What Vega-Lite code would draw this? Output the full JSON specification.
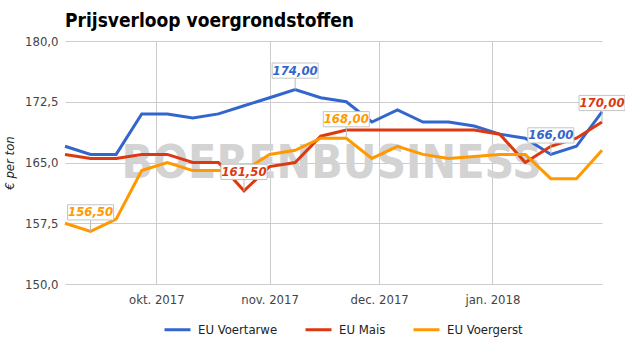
{
  "$schema": "https://vega.github.io/schema/vega-lite/v6.json",
  "width": 537,
  "height": 243,
  "autosize": {"type": "none"},
  "padding": {"left": 65, "top": 41, "right": 23, "bottom": 71},
  "background": "white",
  "title": {"text": "Prijsverloop voergrondstoffen", "anchor": "start", "frame": "group", "fontSize": 19, "fontWeight": "bold", "font": "DejaVu Sans Condensed, DejaVu Sans", "color": "#000", "offset": 4},
  "config": {
    "view": {"stroke": null},
    "font": "DejaVu Sans Condensed, DejaVu Sans",
    "locale": {"number": {"decimal": ",", "thousands": ".", "grouping": [3], "currency": ["€", ""]}}
  },
  "datasets": {
    "main": [
      {"date": "2017/09/06", "series": "EU Voertarwe", "value": 167},
      {"date": "2017/09/13", "series": "EU Voertarwe", "value": 166},
      {"date": "2017/09/20", "series": "EU Voertarwe", "value": 166},
      {"date": "2017/09/27", "series": "EU Voertarwe", "value": 171},
      {"date": "2017/10/04", "series": "EU Voertarwe", "value": 171},
      {"date": "2017/10/11", "series": "EU Voertarwe", "value": 170.5},
      {"date": "2017/10/18", "series": "EU Voertarwe", "value": 171},
      {"date": "2017/10/25", "series": "EU Voertarwe", "value": 172},
      {"date": "2017/11/01", "series": "EU Voertarwe", "value": 173},
      {"date": "2017/11/08", "series": "EU Voertarwe", "value": 174},
      {"date": "2017/11/15", "series": "EU Voertarwe", "value": 173},
      {"date": "2017/11/22", "series": "EU Voertarwe", "value": 172.5},
      {"date": "2017/11/29", "series": "EU Voertarwe", "value": 170},
      {"date": "2017/12/06", "series": "EU Voertarwe", "value": 171.5},
      {"date": "2017/12/13", "series": "EU Voertarwe", "value": 170},
      {"date": "2017/12/20", "series": "EU Voertarwe", "value": 170},
      {"date": "2017/12/27", "series": "EU Voertarwe", "value": 169.5},
      {"date": "2018/01/03", "series": "EU Voertarwe", "value": 168.5},
      {"date": "2018/01/10", "series": "EU Voertarwe", "value": 168},
      {"date": "2018/01/17", "series": "EU Voertarwe", "value": 166},
      {"date": "2018/01/24", "series": "EU Voertarwe", "value": 167},
      {"date": "2018/01/31", "series": "EU Voertarwe", "value": 171.25},
      {"date": "2017/09/06", "series": "EU Mais", "value": 166},
      {"date": "2017/09/13", "series": "EU Mais", "value": 165.5},
      {"date": "2017/09/20", "series": "EU Mais", "value": 165.5},
      {"date": "2017/09/27", "series": "EU Mais", "value": 166},
      {"date": "2017/10/04", "series": "EU Mais", "value": 166},
      {"date": "2017/10/11", "series": "EU Mais", "value": 165},
      {"date": "2017/10/18", "series": "EU Mais", "value": 165},
      {"date": "2017/10/25", "series": "EU Mais", "value": 161.5},
      {"date": "2017/11/01", "series": "EU Mais", "value": 164.5},
      {"date": "2017/11/08", "series": "EU Mais", "value": 165},
      {"date": "2017/11/15", "series": "EU Mais", "value": 168.25},
      {"date": "2017/11/22", "series": "EU Mais", "value": 169},
      {"date": "2017/11/29", "series": "EU Mais", "value": 169},
      {"date": "2017/12/06", "series": "EU Mais", "value": 169},
      {"date": "2017/12/13", "series": "EU Mais", "value": 169},
      {"date": "2017/12/20", "series": "EU Mais", "value": 169},
      {"date": "2017/12/27", "series": "EU Mais", "value": 169},
      {"date": "2018/01/03", "series": "EU Mais", "value": 168.5},
      {"date": "2018/01/10", "series": "EU Mais", "value": 165},
      {"date": "2018/01/17", "series": "EU Mais", "value": 167},
      {"date": "2018/01/24", "series": "EU Mais", "value": 168},
      {"date": "2018/01/31", "series": "EU Mais", "value": 170},
      {"date": "2017/09/06", "series": "EU Voergerst", "value": 157.5},
      {"date": "2017/09/13", "series": "EU Voergerst", "value": 156.5},
      {"date": "2017/09/20", "series": "EU Voergerst", "value": 158},
      {"date": "2017/09/27", "series": "EU Voergerst", "value": 164},
      {"date": "2017/10/04", "series": "EU Voergerst", "value": 165},
      {"date": "2017/10/11", "series": "EU Voergerst", "value": 164},
      {"date": "2017/10/18", "series": "EU Voergerst", "value": 164},
      {"date": "2017/10/25", "series": "EU Voergerst", "value": 164},
      {"date": "2017/11/01", "series": "EU Voergerst", "value": 166},
      {"date": "2017/11/08", "series": "EU Voergerst", "value": 166.5},
      {"date": "2017/11/15", "series": "EU Voergerst", "value": 168},
      {"date": "2017/11/22", "series": "EU Voergerst", "value": 168},
      {"date": "2017/11/29", "series": "EU Voergerst", "value": 165.5},
      {"date": "2017/12/06", "series": "EU Voergerst", "value": 167},
      {"date": "2017/12/13", "series": "EU Voergerst", "value": 166},
      {"date": "2017/12/20", "series": "EU Voergerst", "value": 165.5},
      {"date": "2017/12/27", "series": "EU Voergerst", "value": 165.75},
      {"date": "2018/01/03", "series": "EU Voergerst", "value": 166},
      {"date": "2018/01/10", "series": "EU Voergerst", "value": 166},
      {"date": "2018/01/17", "series": "EU Voergerst", "value": 163},
      {"date": "2018/01/24", "series": "EU Voergerst", "value": 163},
      {"date": "2018/01/31", "series": "EU Voergerst", "value": 166.5}
    ],
    "labels": [
      {"date": "2017/09/13", "series": "EU Voergerst", "value": 156.5},
      {"date": "2017/10/25", "series": "EU Mais", "value": 161.5},
      {"date": "2017/11/08", "series": "EU Voertarwe", "value": 174},
      {"date": "2017/11/22", "series": "EU Voergerst", "value": 168},
      {"date": "2018/01/17", "series": "EU Voertarwe", "value": 166},
      {"date": "2018/01/31", "series": "EU Mais", "value": 170}
    ]
  },
  "layer": [
    {
      "data": {"values": [{"t": "BOERENBUSINESS"}]},
      "mark": {"type": "text", "fontSize": 46, "fontWeight": "bold", "font": "DejaVu Sans Condensed, DejaVu Sans", "color": "#d3d3d3", "align": "center", "baseline": "alphabetic"},
      "encoding": {
        "x": {"datum": {"year": 2017, "month": 11, "date": 18}, "type": "temporal"},
        "y": {"datum": 163.1, "type": "quantitative"},
        "text": {"field": "t", "type": "nominal"}
      }
    },
    {
      "data": {"name": "main"},
      "mark": {"type": "line", "strokeWidth": 3, "interpolate": "linear"},
      "encoding": {
        "x": {
          "field": "date", "type": "temporal",
          "scale": {"domain": [{"year": 2017, "month": 9, "date": 6}, {"year": 2018, "month": 1, "date": 31}]},
          "axis": {
            "title": null,
            "values": [{"year": 2017, "month": 10, "date": 1}, {"year": 2017, "month": 11, "date": 1}, {"year": 2017, "month": 12, "date": 1}, {"year": 2018, "month": 1, "date": 1}],
            "labelExpr": "['jan.','feb.','mrt.','apr.','mei','jun.','jul.','aug.','sep.','okt.','nov.','dec.'][month(datum.value)] + ' ' + year(datum.value)",
            "grid": true, "gridColor": "#cccccc", "domain": false, "ticks": false,
            "labelFontSize": 13, "labelColor": "#444444", "labelPadding": 9
          }
        },
        "y": {
          "field": "value", "type": "quantitative",
          "scale": {"domain": [150, 180], "nice": false, "zero": false},
          "axis": {
            "title": "€ per ton",
            "values": [150, 157.5, 165, 172.5, 180],
            "format": ".1f",
            "grid": true, "gridColor": "#cccccc", "domain": false, "ticks": false,
            "labelFontSize": 13, "labelColor": "#444444", "labelPadding": 7,
            "titleFontStyle": "italic", "titleFontWeight": "normal", "titleFontSize": 13, "titleColor": "#222222", "titlePadding": 8
          }
        },
        "color": {
          "field": "series", "type": "nominal",
          "scale": {"domain": ["EU Voertarwe", "EU Mais", "EU Voergerst"], "range": ["#3366cc", "#dc3912", "#ff9900"]},
          "legend": {
            "orient": "none", "legendX": 98, "legendY": 274, "direction": "horizontal", "title": null,
            "symbolType": "stroke", "symbolSize": 676, "symbolStrokeWidth": 3,
            "labelFontSize": 13, "labelColor": "#222222", "columnPadding": 21, "labelOffset": 6, "padding": 0
          }
        }
      }
    },
    {
      "data": {"name": "labels"},
      "mark": {"type": "rule", "color": "#bbbbbb", "strokeWidth": 1, "y2Offset": -12},
      "encoding": {
        "x": {"field": "date", "type": "temporal"},
        "y": {"field": "value", "type": "quantitative"},
        "y2": {"field": "value"}
      }
    },
    {
      "data": {"name": "labels"},
      "mark": {"type": "point", "shape": "M-1,-0.33H1V0.33H-1Z", "size": 2116, "filled": true, "fill": "white", "stroke": "#c4c4c4", "strokeWidth": 1, "opacity": 1, "yOffset": -19},
      "encoding": {
        "x": {"field": "date", "type": "temporal"},
        "y": {"field": "value", "type": "quantitative"}
      }
    },
    {
      "data": {"name": "labels"},
      "mark": {"type": "text", "fontStyle": "italic", "fontWeight": "bold", "fontSize": 13, "yOffset": -19, "baseline": "middle", "align": "center"},
      "encoding": {
        "x": {"field": "date", "type": "temporal"},
        "y": {"field": "value", "type": "quantitative"},
        "text": {"field": "value", "type": "quantitative", "format": ".2f"},
        "color": {"field": "series", "type": "nominal", "legend": null}
      }
    }
  ]
}
